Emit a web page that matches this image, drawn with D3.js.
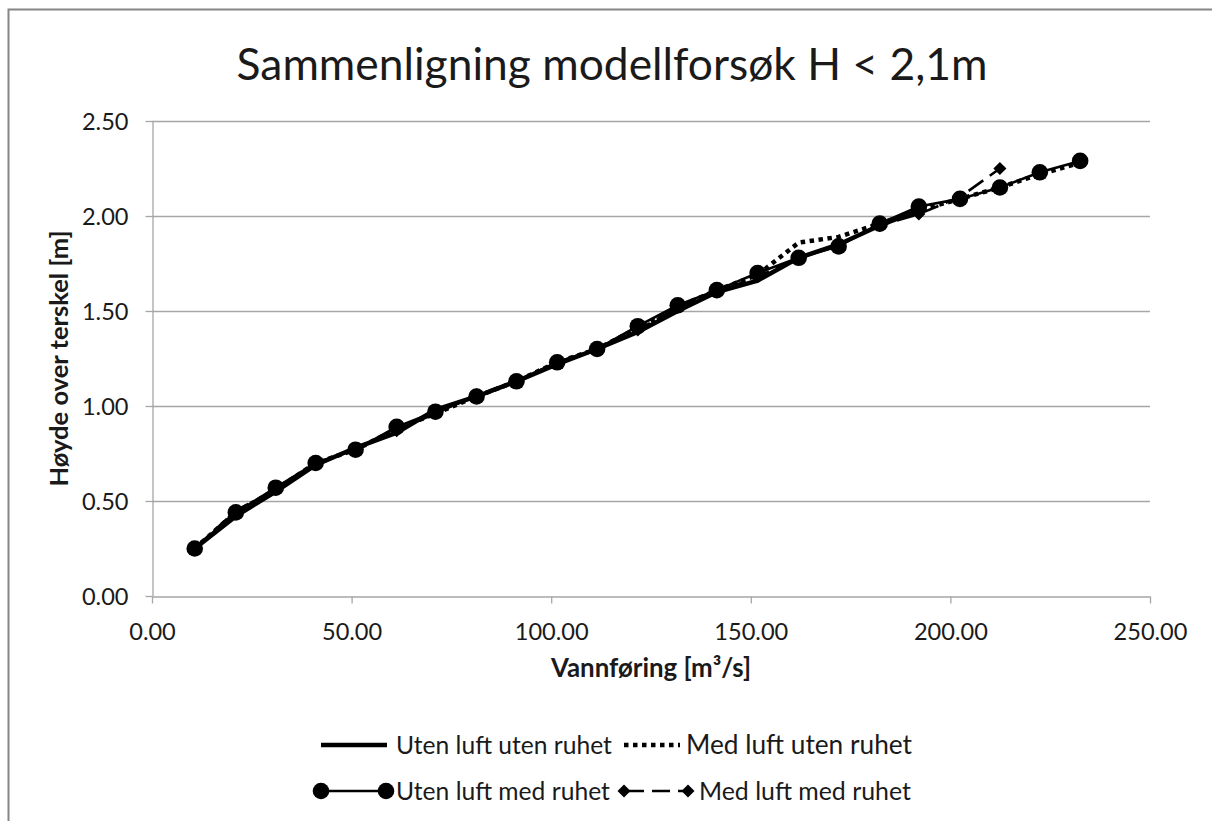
<!DOCTYPE html>
<html><head><meta charset="utf-8">
<script src="https://cdn.jsdelivr.net/npm/d3@7"></script>
<style>
html,body{margin:0;padding:0;background:#fff;overflow:hidden;}
svg{display:block;}
text{font-family:Lato,"Open Sans",sans-serif;fill:#1a1a1a;}
</style></head>
<body><svg id="c" width="1212" height="821"></svg>
<script>
// ---- data ----
const title = "Sammenligning modellforsøk H < 2,1m";
const xTitle = "Vannføring [m³/s]";
const yTitle = "Høyde over terskel [m]";
const xTicks = [0, 50, 100, 150, 200, 250];
const yTicks = [0, 0.5, 1.0, 1.5, 2.0, 2.5];
const seriesNames = ["Uten luft uten ruhet", "Med luft uten ruhet", "Uten luft med ruhet", "Med luft med ruhet"];

const qUtenUten = [10.7, 21, 31, 41, 51, 61.3, 71, 81.3, 91.3, 101.5, 111.5, 121.7, 131.7, 141.5, 151.7, 162, 172, 182.3, 192.1];
const hUtenUten = [0.25, 0.42, 0.55, 0.69, 0.78, 0.86, 0.98, 1.05, 1.13, 1.22, 1.30, 1.39, 1.50, 1.60, 1.66, 1.78, 1.85, 1.95, 2.03];

const qMedUten = [10.7, 21, 31, 41, 51, 61.3, 71, 81.3, 91.3, 101.5, 111.5, 121.7, 131.7, 141.5, 151.7, 162, 172, 182.3, 192.1, 202.4, 212.4, 222.4, 232.5];
const hMedUten = [0.25, 0.44, 0.56, 0.70, 0.77, 0.88, 0.96, 1.05, 1.13, 1.23, 1.30, 1.41, 1.52, 1.61, 1.69, 1.86, 1.89, 1.96, 2.03, 2.09, 2.15, 2.22, 2.28];

const qUtenMed = [10.7, 21, 31, 41, 51, 61.3, 71, 81.3, 91.3, 101.5, 111.5, 121.7, 131.7, 141.5, 151.7, 162, 172, 182.3, 192.1, 202.4, 212.4, 222.4, 232.5];
const hUtenMed = [0.25, 0.44, 0.57, 0.70, 0.77, 0.89, 0.97, 1.05, 1.13, 1.23, 1.30, 1.42, 1.53, 1.61, 1.70, 1.78, 1.84, 1.96, 2.05, 2.09, 2.15, 2.23, 2.29];

const qMedMed = [10.7, 21, 31, 41, 51, 61.3, 71, 81.3, 91.3, 101.5, 111.5, 121.7, 131.7, 141.5, 151.7, 162, 172, 182.3, 192.1, 202.4, 212.4];
const hMedMed = [0.25, 0.45, 0.56, 0.70, 0.77, 0.87, 0.96, 1.06, 1.13, 1.23, 1.30, 1.40, 1.52, 1.60, 1.68, 1.78, 1.85, 1.95, 2.01, 2.10, 2.25];

// ---- layout ----
const svg = d3.select("#c");
const L = 152, R = 1150, T = 121, B = 596;
const x = d3.scaleLinear().domain([0, 250]).range([L, R]);
const y = d3.scaleLinear().domain([0, 2.5]).range([B, T]);
const grid = "#a6a6a6";

// chart frame
svg.append("path").attr("d", `M8.5,830 V9.5 H1220`).attr("fill", "none").attr("stroke", "#868686").attr("stroke-width", 2);

function fit(sel, target) {
  const w = sel.node().getComputedTextLength();
  const fs = parseFloat(sel.attr("font-size"));
  const nf = fs * target / w;
  sel.attr("font-size", nf.toFixed(2));
  return nf;
}

// title
const tt = svg.append("text").attr("x", 612).attr("y", 80).attr("text-anchor", "middle").attr("font-size", 40).text(title);
fit(tt, 751);

// gridlines
svg.append("g").selectAll("line").data(yTicks.filter(d => d > 0)).join("line")
  .attr("x1", L).attr("x2", R).attr("y1", d => Math.round(y(d)) + 0.5).attr("y2", d => Math.round(y(d)) + 0.5)
  .attr("stroke", grid).attr("stroke-width", 1.3);

// axes
const xa = svg.append("g").attr("transform", `translate(0,${B + 0.5})`)
  .call(d3.axisBottom(x).tickValues(xTicks).tickFormat(d3.format(".2f")).tickSize(7).tickSizeOuter(0));
const ya = svg.append("g").attr("transform", `translate(${L + 0.5},0)`)
  .call(d3.axisLeft(y).tickValues(yTicks).tickFormat(d3.format(".2f")).tickSize(7).tickSizeOuter(0));
[xa, ya].forEach(a => {
  a.select(".domain").attr("stroke", grid).attr("stroke-width", 1.3);
  a.selectAll(".tick line").attr("stroke", grid).attr("stroke-width", 1.3);
  a.selectAll(".tick text").attr("font-size", 19).attr("font-family", "Lato, sans-serif").attr("fill", "#1a1a1a");
});
// size tick labels so "250.00" spans ~74px
const lastX = xa.selectAll(".tick text").filter(d => d === 250);
const tfs = fit(lastX, 74);
xa.selectAll(".tick text").attr("font-size", tfs.toFixed(2)).attr("dy", 0).attr("y", 43);
ya.selectAll(".tick text").attr("font-size", tfs.toFixed(2)).attr("x", -24).attr("dy", "0.35em");

// axis titles
const xt = svg.append("text").attr("x", (L + R) / 2).attr("y", 677).attr("text-anchor", "middle")
  .attr("font-size", 19).attr("font-weight", "bold").text(xTitle);
fit(xt, 200);
const yt = svg.append("text").attr("transform", `translate(68,${(T + B) / 2}) rotate(-90)`).attr("text-anchor", "middle")
  .attr("font-size", 19).attr("font-weight", "bold").text(yTitle);
fit(yt, 256);

// series
const line = d3.line().x(d => x(d[0])).y(d => y(d[1]));
const zip = (a, b) => a.map((v, i) => [v, b[i]]);
const dUU = zip(qUtenUten, hUtenUten), dMU = zip(qMedUten, hMedUten), dUM = zip(qUtenMed, hUtenMed), dMM = zip(qMedMed, hMedMed);
const diamondSym = d3.symbol().type(d3.symbolSquare).size(85);

const plot = svg.append("g");
plot.append("path").datum(dMM).attr("d", line).attr("fill", "none").attr("stroke", "#000").attr("stroke-width", 2.6).attr("stroke-dasharray", "18,8");
plot.append("g").selectAll("path").data(dMM).join("path").attr("d", diamondSym)
  .attr("transform", d => `translate(${x(d[0])},${y(d[1])}) rotate(45)`).attr("fill", "#000");
plot.append("path").datum(dUM).attr("d", line).attr("fill", "none").attr("stroke", "#000").attr("stroke-width", 2.6);
plot.append("g").selectAll("circle").data(dUM).join("circle").attr("cx", d => x(d[0])).attr("cy", d => y(d[1])).attr("r", 8.3).attr("fill", "#000");
plot.append("path").datum(dMU).attr("d", line).attr("fill", "none").attr("stroke", "#000").attr("stroke-width", 4.5).attr("stroke-dasharray", "4.5,4.5");
plot.append("path").datum(dUU).attr("d", line).attr("fill", "none").attr("stroke", "#000").attr("stroke-width", 4.5);

// legend
const lg = svg.append("g");
const row1 = 745, row2 = 791;
lg.append("line").attr("x1", 321).attr("x2", 387).attr("y1", row1).attr("y2", row1).attr("stroke", "#000").attr("stroke-width", 4.5);
lg.append("line").attr("x1", 624).attr("x2", 680).attr("y1", row1).attr("y2", row1).attr("stroke", "#000").attr("stroke-width", 4.5).attr("stroke-dasharray", "4.5,4.5");
lg.append("line").attr("x1", 321).attr("x2", 386).attr("y1", row2).attr("y2", row2).attr("stroke", "#000").attr("stroke-width", 2.6);
[321, 386].forEach(cx => lg.append("circle").attr("cx", cx).attr("cy", row2).attr("r", 8.3).attr("fill", "#000"));
lg.append("line").attr("x1", 624).attr("x2", 688).attr("y1", row2).attr("y2", row2).attr("stroke", "#000").attr("stroke-width", 2.6).attr("stroke-dasharray", "18,8").attr("stroke-dashoffset", -2);
[624, 688].forEach(cx => lg.append("path").attr("d", diamondSym).attr("transform", `translate(${cx},${row2}) rotate(45)`).attr("fill", "#000"));
const legPos = [[396, row1, 216], [686, row1, 226], [396, row2, 214], [699, row2, 212]];
seriesNames.forEach((n, i) => {
  const t = lg.append("text").attr("x", legPos[i][0]).attr("y", legPos[i][1]).attr("dy", "0.35em").attr("font-size", 20).text(n);
  fit(t, legPos[i][2]);
});
</script></body></html>
